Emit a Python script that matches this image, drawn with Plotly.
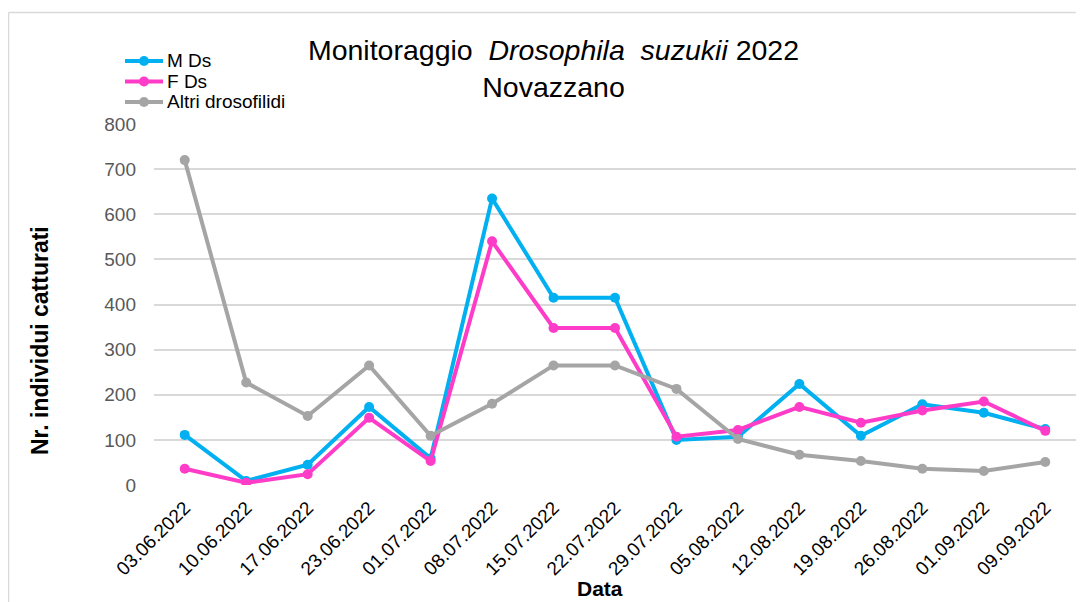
import plotly.graph_objects as go

dates = ["03.06.2022", "10.06.2022", "17.06.2022", "23.06.2022", "01.07.2022",
         "08.07.2022", "15.07.2022", "22.07.2022", "29.07.2022", "05.08.2022",
         "12.08.2022", "19.08.2022", "26.08.2022", "01.09.2022", "09.09.2022"]
m_ds = [111, 9, 45, 173, 59, 635, 415, 415, 100, 107, 224, 109, 179, 160, 124]
f_ds = [36, 5, 24, 149, 53, 540, 348, 348, 107, 122, 173, 138, 165, 185, 120]
altri = [720, 227, 153, 265, 109, 180, 265, 265, 213, 102, 67, 53, 36, 31, 51]

series_names = ["M Ds", "F Ds", "Altri drosofilidi"]
series_vals = [m_ds, f_ds, altri]
series_colors = ["#00B0F0", "#FF3CC8", "#A5A5A5"]

FONT = "Liberation Sans, Arial, sans-serif"
OFF = 8  # page body margin
PAGE_W, PAGE_H = 1084, 602
W, H = PAGE_W - OFF, PAGE_H - OFF
# plot area in page pixels
PL, PR, PT, PB = 154, 1076, 124, 485
L, T = PL - OFF, PT - OFF
R = W - (PR - OFF)
B = H - (PB - OFF)
PW, PH = PR - PL, PB - PT


def px_x(p):
    return (p - PL) / PW


def px_y(p):
    return (PB - p) / PH


fig = go.Figure()
for name, vals, col in zip(series_names, series_vals, series_colors):
    fig.add_trace(go.Scatter(
        x=dates, y=vals, name=name, mode="lines+markers",
        line=dict(color=col, width=4), marker=dict(color=col, size=10),
        showlegend=False,
    ))

shapes = [
    dict(type="line", xref="paper", yref="paper",
         x0=px_x(8.5), x1=px_x(8.5), y0=px_y(12.5), y1=px_y(PAGE_H + 5),
         line=dict(color="#D9D9D9", width=1.5)),
    dict(type="line", xref="paper", yref="paper",
         x0=px_x(8.5), x1=px_x(PAGE_W + 5), y0=px_y(12.5), y1=px_y(12.5),
         line=dict(color="#D9D9D9", width=1.5)),
]
annotations = [
    dict(text="<b>Nr. individui catturati</b>", x=px_x(40), y=px_y(341),
         xref="paper", yref="paper", showarrow=False, textangle=-90,
         font=dict(size=23, color="#000000", family=FONT),
         xanchor="center", yanchor="middle"),
    dict(text="<b>Data</b>", x=px_x(600), y=px_y(588),
         xref="paper", yref="paper", showarrow=False,
         font=dict(size=21, color="#000000", family=FONT),
         xanchor="center", yanchor="middle"),
]

# manual legend (Excel-like tight spacing)
legend_y = [61, 81.5, 102]
for name, col, yc in zip(series_names, series_colors, legend_y):
    shapes.append(dict(type="line", xref="paper", yref="paper",
                       x0=px_x(125), x1=px_x(163), y0=px_y(yc), y1=px_y(yc),
                       line=dict(color=col, width=4)))
    shapes.append(dict(type="circle", xref="paper", yref="paper",
                       x0=px_x(139), x1=px_x(149), y0=px_y(yc + 5), y1=px_y(yc - 5),
                       fillcolor=col, line=dict(color=col, width=0)))
    annotations.append(dict(text=name, x=px_x(165), y=px_y(yc), xref="paper", yref="paper",
                            showarrow=False, xanchor="left", yanchor="middle",
                            font=dict(size=19, color="#000000", family=FONT)))

fig.update_layout(
    width=W, height=H,
    margin=dict(l=L, r=R, t=T, b=B),
    paper_bgcolor="white", plot_bgcolor="white",
    font=dict(family=FONT, color="#000000"),
    title=dict(
        text="Monitoraggio&nbsp; <i>Drosophila&nbsp; suzukii</i> 2022<br>Novazzano",
        x=(553.5 - OFF) / W, xref="container", xanchor="center",
        y=1 - (59.5 - OFF) / H, yref="container", yanchor="middle",
        font=dict(size=28.5, color="#000000", family=FONT),
    ),
    showlegend=False,
    xaxis=dict(
        type="category", range=[-0.5, len(dates) - 0.5],
        showgrid=False, showline=False, zeroline=False,
        tickangle=-45, tickfont=dict(size=19, color="#000000", family=FONT),
        ticks="", ticklabelstandoff=7,
    ),
    yaxis=dict(
        range=[0, 800], dtick=100, showgrid=True, gridcolor="#D9D9D9", gridwidth=1.5,
        zeroline=False, showline=False, ticks="",
        tickfont=dict(size=19, color="#595959", family=FONT),
        ticklabelstandoff=17,
    ),
    annotations=annotations,
    shapes=shapes,
)

fig.write_html("out.html")
